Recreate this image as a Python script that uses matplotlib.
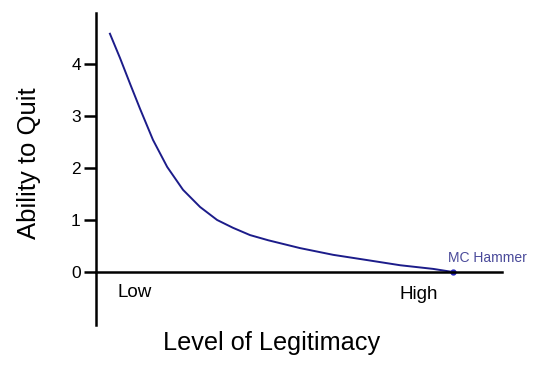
import matplotlib
matplotlib.use("Agg")
import matplotlib.pyplot as plt

plt.rcParams['font.family'] = ['Liberation Sans', 'DejaVu Sans']

# level of legitimacy (0-100 along the axis) vs ability to quit
legitimacy = [3.4, 5.9, 8.4, 10.8, 14.0, 17.5, 21.4, 25.6, 29.8, 33.7, 37.9,
              42.4, 50.2, 58.4, 66.7, 74.9, 83.0, 87.9]
ability = [4.58, 4.11, 3.61, 3.14, 2.54, 2.02, 1.58, 1.25, 1.0, 0.85, 0.71,
           0.61, 0.46, 0.33, 0.23, 0.13, 0.06, 0.0]

hammer_x = 87.9
hammer_y = 0.0
y_ticks = [0, 1, 2, 3, 4]

fig = plt.figure(figsize=(5.4, 3.69), dpi=100)
ax = fig.add_axes([0.178, 0.119, 0.752, 0.846])

ax.plot(legitimacy, ability, color='#1c1c8a', linewidth=1.4)
ax.plot([hammer_x], [hammer_y], 'o', color='#2222bb', markersize=3.5)
ax.text(hammer_x - 1.3, 0.19, "MC Hammer", color='#4a4a9a', fontsize=10)

ax.text(5.2, -0.4, "Low", fontsize=13.5, va='center')
ax.text(74.6, -0.44, "High", fontsize=13.5, va='center')

ax.set_xlim(0, 100)
ax.set_ylim(-1.02, 4.98)

ax.spines['top'].set_visible(False)
ax.spines['right'].set_visible(False)
ax.spines['bottom'].set_position(('data', 0))
ax.spines['left'].set_linewidth(1.8)
ax.spines['bottom'].set_linewidth(1.8)

ax.set_xticks([])
ax.set_yticks(y_ticks)
ax.tick_params(axis='y', length=9, width=1.8, labelsize=12.5, pad=2)

fig.text(0.502, 0.07, "Level of Legitimacy", fontsize=18.2, ha='center', va='center')
fig.text(0.054, 0.558, "Ability to Quit", fontsize=18.5, ha='center', va='center',
         rotation=90)

fig.savefig("out.png", dpi=100)
